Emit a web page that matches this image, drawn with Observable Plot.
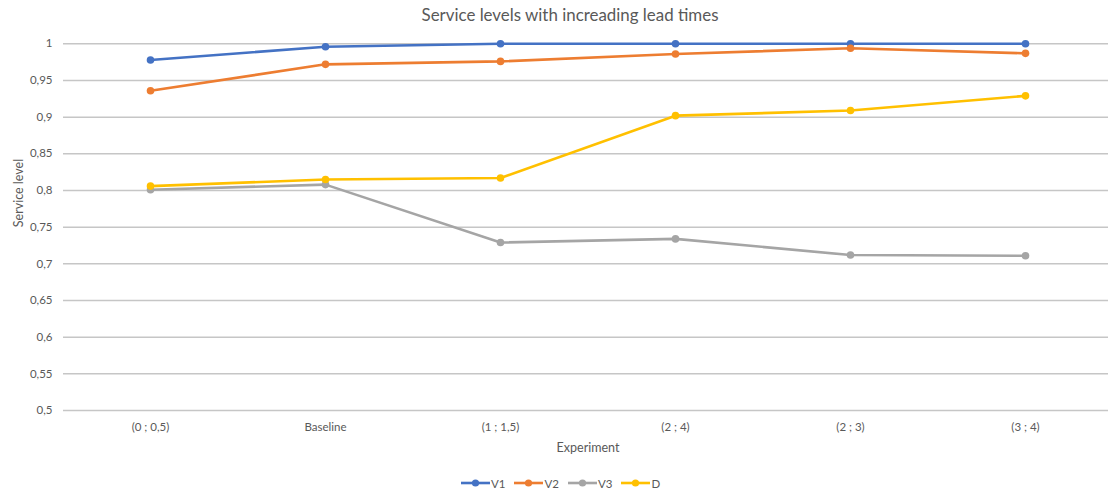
<!DOCTYPE html>
<html>
<head>
<meta charset="utf-8">
<script src="https://cdn.jsdelivr.net/npm/d3@7"></script>
<script src="https://cdn.jsdelivr.net/npm/@observablehq/plot@0.6"></script>
<style>
  html, body { margin: 0; padding: 0; background: #fff; }
  body { width: 1108px; height: 494px; position: relative; overflow: hidden; font-family: Lato, "Liberation Sans", sans-serif; color: #595959; }
  #title { position: absolute; left: 0; top: 0; width: 1108px; height: 30px; text-align: center; font-size: 16.9px; line-height: 30px; }
  #title span { position: relative; left: 16px; }
  #chart { position: absolute; left: 0; top: 30px; }
  #legend { position: absolute; left: 461px; top: 474px; height: 18px; display: flex; align-items: center; font-size: 11.5px; }
  .item { display: flex; align-items: center; margin-right: 9px; }
  .item svg { display: block; margin-right: 1px; }
</style>
</head>
<body>
<div id="title"><span>Service levels with increading lead times</span></div>
<div id="chart"></div>
<div id="legend"></div>
<script>
const categories = ["(0 ; 0,5)", "Baseline", "(1 ; 1,5)", "(2 ; 4)", "(2 ; 3)", "(3 ; 4)"];
const seriesNames = ["V1", "V2", "V3", "D"];
const seriesColors = ["#4472C4", "#ED7D31", "#A5A5A5", "#FFC000"];
const V1 = [0.978, 0.996, 1.000, 1.000, 1.000, 1.000];
const V2 = [0.936, 0.972, 0.976, 0.986, 0.994, 0.987];
const V3 = [0.801, 0.808, 0.729, 0.734, 0.712, 0.711];
const D  = [0.806, 0.815, 0.817, 0.902, 0.909, 0.929];
const yTicks = [0.5, 0.55, 0.6, 0.65, 0.7, 0.75, 0.8, 0.85, 0.9, 0.95, 1];
const xLabel = "Experiment";
const yLabel = "Service level";

const seriesValues = [V1, V2, V3, D];
const data = seriesNames.flatMap((s, i) =>
  categories.map((c, j) => ({series: s, experiment: c, value: seriesValues[i][j]})));

const fmt = d => String(+d.toFixed(2)).replace(".", ",");

const marks = [
  Plot.ruleY(yTicks, {stroke: "#c6c6c6", strokeWidth: 1.5}),
  Plot.axisY({ticks: yTicks, tickSize: 0, tickPadding: 11, tickFormat: fmt, label: null, fontSize: 11.5, fill: "#595959"}),
  Plot.axisX({tickSize: 0, tickPadding: 12, label: null, fontSize: 11.5, fill: "#595959"}),
  Plot.text([xLabel], {frameAnchor: "bottom", dy: 37.7, dx: 2, lineAnchor: "middle", fontSize: 12.5, fill: "#595959"}),
  Plot.text([yLabel], {frameAnchor: "left", dx: -45, rotate: -90, lineAnchor: "middle", fontSize: 12.5, fill: "#595959"})
];
seriesNames.forEach(s => {
  const sub = data.filter(d => d.series === s);
  marks.push(Plot.line(sub, {x: "experiment", y: "value", stroke: "series", strokeWidth: 2.6}));
  marks.push(Plot.dot(sub, {x: "experiment", y: "value", fill: "series", r: 3.8}));
});

const chart = Plot.plot({
  width: 1108,
  height: 430,
  marginTop: 13.3,
  marginBottom: 50,
  marginLeft: 63,
  marginRight: 0,
  style: {fontFamily: "Lato, 'Liberation Sans', sans-serif", color: "#595959", background: "#fff"},
  x: {type: "point", domain: categories, range: [150, 1025], padding: 0},
  y: {domain: [0.5, 1]},
  color: {domain: seriesNames, range: seriesColors},
  marks
});
document.getElementById("chart").appendChild(chart);

const legend = document.getElementById("legend");
seriesNames.forEach((s, i) => {
  const item = document.createElement("div");
  item.className = "item";
  const ns = "http://www.w3.org/2000/svg";
  const svg = document.createElementNS(ns, "svg");
  svg.setAttribute("width", 29); svg.setAttribute("height", 10);
  const line = document.createElementNS(ns, "line");
  line.setAttribute("x1", 0); line.setAttribute("x2", 29); line.setAttribute("y1", 5); line.setAttribute("y2", 5);
  line.setAttribute("stroke", seriesColors[i]); line.setAttribute("stroke-width", 2.6);
  const c = document.createElementNS(ns, "circle");
  c.setAttribute("cx", 14.5); c.setAttribute("cy", 5); c.setAttribute("r", 3.6); c.setAttribute("fill", seriesColors[i]);
  svg.appendChild(line); svg.appendChild(c);
  const t = document.createElement("span");
  t.textContent = s;
  item.appendChild(svg); item.appendChild(t);
  legend.appendChild(item);
});
</script>
</body>
</html>
